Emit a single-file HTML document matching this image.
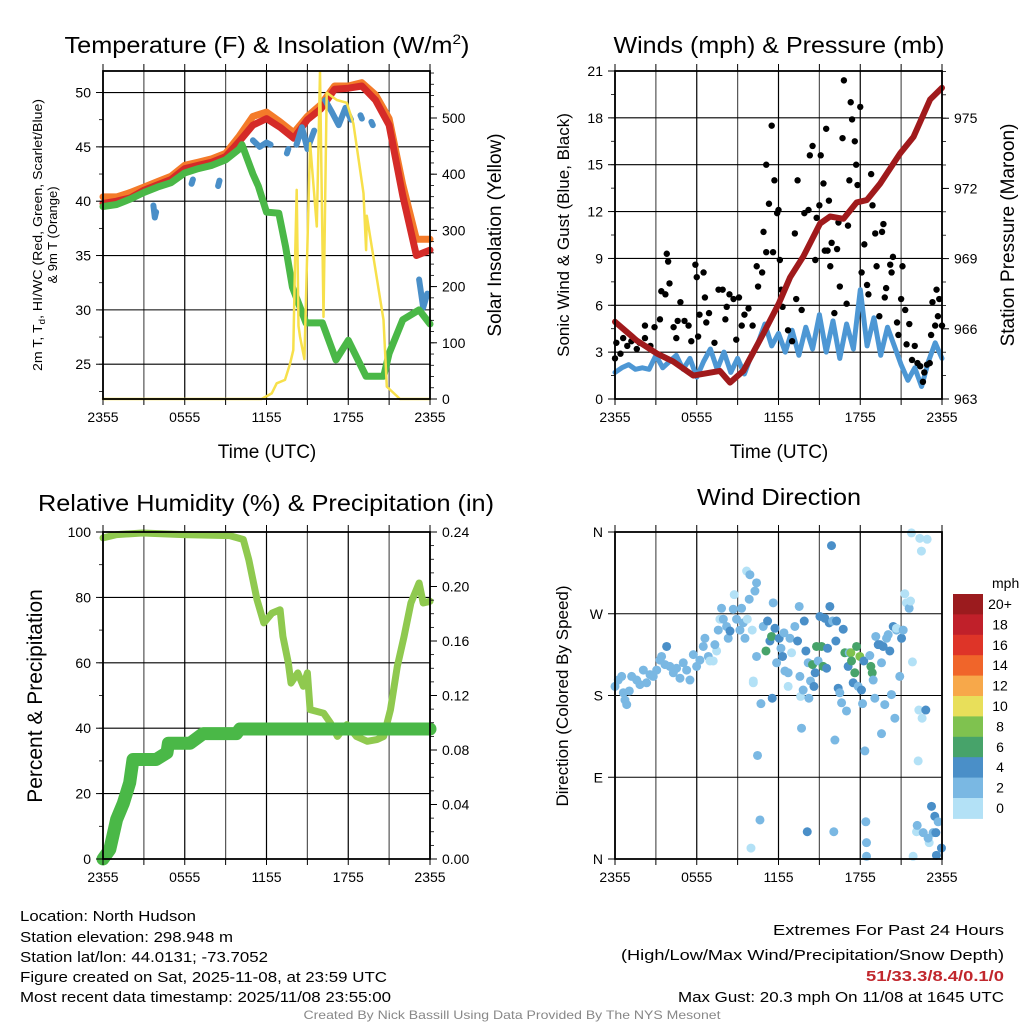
<!DOCTYPE html>
<html><head><meta charset="utf-8"><title>Station meteogram – North Hudson</title>
<style>html,body{margin:0;padding:0;background:#fff}svg{display:block;font-family:"Liberation Sans",sans-serif}</style>
</head><body>
<svg id="fig" width="1024" height="1024" viewBox="0 0 1024 1024" xmlns="http://www.w3.org/2000/svg">
<rect width="1024" height="1024" fill="#fff"/>
<g id="grid"></g>
<g id="marks"></g>
<g id="axes"></g>
<g id="labels">
<text x="267" y="53" font-size="23" text-anchor="middle" textLength="405" lengthAdjust="spacingAndGlyphs">Temperature (F) &amp; Insolation (W/m<tspan dy="-9" font-size="14">2</tspan><tspan dy="9">)</tspan></text>
<text x="779" y="53" font-size="23" text-anchor="middle" textLength="331" lengthAdjust="spacingAndGlyphs">Winds (mph) &amp; Pressure (mb)</text>
<text x="266" y="511" font-size="23" text-anchor="middle" textLength="456" lengthAdjust="spacingAndGlyphs">Relative Humidity (%) &amp; Precipitation (in)</text>
<text x="779" y="505" font-size="23" text-anchor="middle" textLength="164" lengthAdjust="spacingAndGlyphs">Wind Direction</text>
<text x="267" y="458" font-size="19" text-anchor="middle">Time (UTC)</text>
<text x="779" y="458" font-size="19" text-anchor="middle">Time (UTC)</text>
<text transform="translate(42,235) rotate(-90)" font-size="13" text-anchor="middle" textLength="272" lengthAdjust="spacingAndGlyphs">2m T, T<tspan dy="3" font-size="9">d</tspan><tspan dy="-3">, HI/WC (Red, Green, Scarlet/Blue)</tspan></text>
<text transform="translate(57,235) rotate(-90)" font-size="13" text-anchor="middle">&amp; 9m T (Orange)</text>
<text transform="translate(501,235) rotate(-90)" font-size="19" text-anchor="middle">Solar Insolation (Yellow)</text>
<text transform="translate(569,235) rotate(-90)" font-size="17" text-anchor="middle">Sonic Wind &amp; Gust (Blue, Black)</text>
<text transform="translate(1014,235) rotate(-90)" font-size="19" text-anchor="middle">Station Pressure (Maroon)</text>
<text transform="translate(42,696) rotate(-90)" font-size="21" text-anchor="middle">Percent &amp; Precipitation</text>
<text transform="translate(568,696) rotate(-90)" font-size="17" text-anchor="middle">Direction (Colored By Speed)</text>
<text x="992" y="588" font-size="14">mph</text>
<text x="20" y="921" font-size="15" textLength="176" lengthAdjust="spacingAndGlyphs">Location: North Hudson</text>
<text x="20" y="942" font-size="15" textLength="213" lengthAdjust="spacingAndGlyphs">Station elevation: 298.948 m</text>
<text x="20" y="962" font-size="15" textLength="248" lengthAdjust="spacingAndGlyphs">Station lat/lon: 44.0131; -73.7052</text>
<text x="20" y="982" font-size="15" textLength="367" lengthAdjust="spacingAndGlyphs">Figure created on Sat, 2025-11-08, at 23:59 UTC</text>
<text x="20" y="1002" font-size="15" textLength="371" lengthAdjust="spacingAndGlyphs">Most recent data timestamp: 2025/11/08 23:55:00</text>
<text x="1004" y="935" font-size="15" text-anchor="end" textLength="231" lengthAdjust="spacingAndGlyphs">Extremes For Past 24 Hours</text>
<text x="1004" y="960" font-size="15" text-anchor="end" textLength="383" lengthAdjust="spacingAndGlyphs">(High/Low/Max Wind/Precipitation/Snow Depth)</text>
<text x="1004" y="981" font-size="15" font-weight="bold" fill="#c1272d" text-anchor="end" textLength="138" lengthAdjust="spacingAndGlyphs">51/33.3/8.4/0.1/0</text>
<text x="1004" y="1002" font-size="15" text-anchor="end" textLength="326" lengthAdjust="spacingAndGlyphs">Max Gust: 20.3 mph On 11/08 at 1645 UTC</text>
<text x="512" y="1019" font-size="12" fill="#888" text-anchor="middle" textLength="417" lengthAdjust="spacingAndGlyphs">Created By Nick Bassill Using Data Provided By The NYS Mesonet</text>
</g>
</svg>
<script>
// ---------- data ----------
const hourTicks = ["2355","0555","1155","1755","2355"];
const hourly = [0,1,2,3,4,5,6,7,8,9,10,11,12,13,14,15,16,17,18,19,20,21,22,23,24];
const tempRed = [39.8,40.0,40.3,41.0,41.5,42.0,43.0,43.3,43.6,44.1,45.5,47.0,47.6,46.8,45.8,47.5,48.5,50.3,50.4,50.6,49.3,47.0,40.5,35.0,35.5];
const tempOrange = [40.4,40.4,40.8,41.3,41.8,42.3,43.3,43.6,43.9,44.4,46.0,47.8,48.2,47.3,46.3,47.8,48.9,50.6,50.6,50.9,49.8,47.6,41.5,36.5,36.5];
const greenHours = [0,1,2,3,4,5,6,7,8,9,10,10.2,11,11.4,12,12.9,13.4,13.9,14.9,16.1,17.1,18,19.3,20.6,21,22,23.2,24];
const tempGreen = [39.5,39.7,40.2,40.8,41.3,41.7,42.6,43.0,43.3,43.8,44.8,45.2,42.5,41.4,39.0,38.9,35.8,32.1,28.8,28.8,25.4,27.2,23.9,23.9,26.0,29.1,30.0,28.7];
const blueHours = [3.7,3.8,3.9,null,6.5,6.6,null,8.45,8.55,null,11.0,11.5,12.0,12.3,null,13.5,13.6,null,14.2,14.6,15.0,15.5,null,16.3,16.8,17.3,17.8,18.2,null,18.9,19.0,null,19.7,19.8,null,23.2,23.5,23.8];
const blueTemps = [39.6,38.5,39.0,null,41.6,42.0,null,41.4,41.9,null,45.6,45.0,45.4,45.2,null,44.4,44.8,null,45.2,46.8,44.8,46.5,null,49.3,48.2,47.0,48.6,47.5,null,47.9,47.6,null,47.3,47.0,null,32.8,30.2,31.5];
const solarHours = [0,11.64,12.38,12.75,13.36,13.73,13.97,14.1,14.22,14.35,14.46,14.78,15.2,15.69,15.93,16.18,16.42,17.16,17.89,18.38,19.12,19.31,19.36,20.59,20.83,21.8,24];
const solarVals = [0,0,10,28,34,63,87,250,372,130,111,71,455,307,582,146,545,532,527,490,366,265,326,141,22,0,0];
const pressHours = [0,1.59,3.06,4.28,5.75,7.7,8.44,9.42,10.89,12.04,12.85,13.83,15.05,15.79,16.77,17.74,18.48,19.46,20.93,21.91,23.13,24];
const pressVals = [966.3,965.5,964.95,964.6,964.0,964.2,963.7,964.2,965.8,967.1,968.2,969.1,970.5,970.8,970.7,971.4,971.5,972.2,973.5,974.2,975.8,976.3];
const windVals = [1.7,2.0,2.2,1.9,2.0,1.9,2.8,2.0,2.4,2.8,1.9,2.6,1.4,2.4,3.2,1.9,3.0,1.7,2.6,1.6,2.8,3.6,4.8,3.4,4.2,3.0,4.4,2.8,4.6,3.2,5.4,3.0,5.0,2.6,4.8,3.2,7.0,3.4,5.2,2.8,4.6,3.4,2.2,1.2,2.0,0.8,2.4,3.6,2.6];
const gustHours = [0,0.1,0.4,0.6,0.9,1.2,1.6,1.8,2.2,2.2,2.6,2.9,3.3,3.4,3.7,3.8,3.9,4.0,4.3,4.5,4.6,4.8,5.1,5.4,5.6,5.9,6.0,6.1,6.2,6.5,6.6,6.7,6.9,7.3,7.6,7.9,8.1,8.2,8.4,8.7,8.9,9.1,9.3,9.5,9.8,10.1,10.4,10.5,10.8,10.9,11.1,11.1,11.3,11.5,11.6,11.7,11.9,12.0,12.1,12.2,12.3,12.7,13.0,13.2,13.3,13.4,13.7,13.9,14.2,14.3,14.5,14.7,14.8,15.0,15.1,15.3,15.4,15.5,15.6,15.7,15.8,15.9,16.1,16.3,16.4,16.5,16.7,16.8,17.0,17.1,17.2,17.3,17.4,17.6,17.7,17.8,18.0,18.1,18.3,18.5,18.6,18.8,18.9,19.1,19.2,19.4,19.6,19.7,19.8,19.9,20.2,20.3,20.4,20.7,20.8,21.0,21.1,21.3,21.4,21.6,21.8,22.0,22.2,22.4,22.6,22.7,22.9,23.1,23.2,23.3,23.5,23.6,23.7,23.8,24.0];
const gustVals = [2.6,3.6,2.9,3.9,3.4,3.7,3.2,3.6,3.9,4.7,3.4,4.6,5.1,6.9,6.7,9.3,8.8,7.4,4.6,3.9,5.0,6.2,5.0,4.7,3.7,8.6,7.8,4.0,5.4,8.1,6.5,4.9,5.5,3.6,7.0,7.0,5.1,5.9,6.7,6.4,3.8,6.5,4.7,5.4,5.8,4.7,8.5,7.2,8.1,10.7,15.0,9.4,12.5,17.5,9.4,14.0,11.9,12.1,8.9,7.0,5.9,4.4,3.7,10.6,6.4,14.0,5.7,11.9,12.1,15.6,16.2,8.9,11.6,12.4,15.6,13.8,9.5,17.3,9.5,12.7,8.5,10.0,5.5,9.6,11.3,7.2,16.7,20.4,6.1,11.1,14.0,19.0,17.9,16.5,15.0,13.7,18.7,8.1,9.9,7.3,6.7,14.4,12.4,10.6,8.5,5.3,10.7,11.2,6.5,7.1,8.6,8.1,9.1,4.9,4.1,6.4,8.5,5.7,3.5,4.8,2.5,3.4,2.3,2.1,1.1,1.7,2.2,2.3,4.1,6.2,4.7,7.0,5.3,6.4,4.7];
const rhHours = [0,1,2.9,5.9,9.3,10.3,10.7,11.0,11.3,11.8,12.4,13.0,13.2,13.6,13.8,14.3,14.7,15.0,15.2,16.2,16.7,17.2,17.9,18.6,19.4,20.1,20.6,21.1,21.6,22.1,22.6,23.2,23.5,24];
const rhVals = [98.2,99.2,99.7,99.2,98.9,97.7,91.5,85.4,79.3,72.2,75.2,76.2,68.1,60.0,53.8,56.9,52.8,56.9,45.7,44.6,41.6,37.5,41.1,37.5,36.0,36.5,37.5,45.7,58.9,68.1,78.3,84.4,78.3,78.8];
const precipHours = [0,0.5,1,1.5,1.96,2.2,2.45,3.9,4.7,4.8,6.4,7.35,9.8,10.05,24];
const precipVals = [0,0.007,0.029,0.041,0.056,0.073,0.073,0.073,0.078,0.085,0.085,0.092,0.092,0.0954,0.0954];
const dirHours = [0,0.24,0.49,0.61,0.73,0.86,1.05,1.22,1.59,1.83,2.08,2.32,2.57,2.81,3.06,3.3,3.42,3.67,3.79,4.03,4.28,4.52,4.77,5.01,5.26,5.5,5.75,5.99,6.23,6.48,6.6,6.85,6.97,7.21,7.46,7.33,7.58,7.7,7.82,7.95,8.19,8.31,8.44,8.68,8.75,8.92,9.17,9.29,9.41,9.54,9.71,9.66,9.9,10.07,10.15,10.27,10.39,9.85,10.15,10.39,10.46,10.64,10.71,9.98,10.88,11.08,11.2,11.37,11.49,11.54,11.61,11.74,11.86,12.05,12.18,12.3,12.4,12.47,12.71,12.71,12.84,12.96,13.2,13.4,13.52,13.57,13.62,13.69,13.81,13.89,14.01,14.11,14.18,14.23,14.35,14.5,14.6,14.69,14.79,14.91,15.04,15.16,15.28,15.4,15.53,15.6,15.72,15.77,15.89,15.97,16.06,16.14,16.26,16.21,16.38,16.5,16.63,16.75,16.87,16.99,17.11,17.19,17.31,17.36,17.48,17.6,17.73,17.85,17.97,18.09,18.17,18.26,18.34,18.41,18.46,18.46,18.7,18.78,18.88,18.95,19.07,19.14,19.32,19.44,19.56,19.56,19.68,19.8,19.93,20.05,20.17,20.29,20.42,20.54,20.66,20.66,20.9,21.03,21.15,21.27,21.39,21.59,21.69,21.76,21.83,22.25,22.54,22.3,22.37,22.49,22.81,22.91,23.06,23.96,21.88,22.13,22.18,22.62,22.98,23.23,23.35,23.47,23.55,23.59,23.72,23.79,23.89,23.35];
const dirDegrees = [190,197,201,183,175,170,185,201,197,192,208,194,203,201,208,219,223,214,234,212,205,210,199,216,208,197,225,212,219,234,243,223,218,218,229,236,252,264,276,264,256,243,251,275,291,264,252,276,260,243,264,317,313,252,194,295,304,286,196,223,114,43,171,12,256,229,262,240,245,177,282,254,216,243,232,223,249,207,205,190,243,227,256,240,278,201,179,144,186,262,229,30,216,177,196,214,190,205,234,218,267,234,212,265,210,232,260,278,345,262,30,131,262,240,188,183,172,253,227,163,212,227,227,218,194,205,234,190,223,186,171,218,119,41,18,3,224,212,205,197,177,245,236,236,216,138,234,170,243,247,229,181,256,155,252,254,201,243,252,292,282,276,284,359,217,108,155,164,353,339,164,352,18,12,3,30,37,29,23,58,29,47,29,4,41];
const dirSpeeds = [3,3,3,3,3,3,3,3,3,3,3,3,3,3,3,3,3,3,5,3,3,3,3,3,3,3,3,3,3,3,3,3,1,1,1,3,3,1,3,3,3,3,5,3,1,3,3,3,3,3,1,1,3,1,1,3,3,3,1,3,3,3,3,1,3,7,5,5,7,5,3,5,3,5,3,5,3,3,3,1,3,1,3,5,3,3,1,3,3,5,5,5,3,3,3,7,5,5,7,3,5,7,7,5,5,5,5,5,5,3,3,3,5,5,5,3,3,5,7,3,5,3,8.5,7,5,7,7,3,8.5,5,3,5,3,3,3,3,3,7,7,3,3,3,5,5,3,3,5,3,3,3,5,3,5,3,3,1,3,5,3,1,1,3,1,1,1,1,1,1,1,1,5,1,1,5,1,1,3,3,3,5,3,5,5,5,3];
const cbLabels = ["20+","18","16","14","12","10","8","6","4","2","0"];
const cbColors = ["#9b1b1e","#c0202a","#de3428","#f0652a","#f7a84a","#e8df5a","#7fc24f","#47a36a","#4a8fc8","#7ab8e3","#b3e1f6"];
const tempTicks = [25,30,35,40,45,50];
const solarTicks = [0,100,200,300,400,500];
const windTicks = [0,3,6,9,12,15,18,21];
const pressTicks = [963,966,969,972,975];
const rhTicks = [0,20,40,60,80,100];
const precipTicks = ["0.00","0.04","0.08","0.12","0.16","0.20","0.24"];
const dirTicks = ["N","E","S","W","N"];

// ---------- scales ----------
const NS="http://www.w3.org/2000/svg";
const L1=103,R1=430,L2=615,R2=942,T1=71,B1=399,T2=532,B2=859;
const xA=h=>L1+h*(R1-L1)/24, xB=h=>L2+h*(R2-L2)/24;
const yTemp=t=>B1-(t-21.8)*(B1-T1)/(51.98-21.8);
const ySolar=s=>B1-s*(B1-T1)/583.6;
const yWind=m=>B1-m*(B1-T1)/21;
const yPress=p=>B1-(p-963)*23.4;
const yRH=r=>B2-r*(B2-T2)/100;
const yPrecip=v=>B2-v*(B2-T2)/0.24;
const yDir=d=>B2-d*(B2-T2)/360;
const grid=document.getElementById('grid'),marks=document.getElementById('marks'),axes=document.getElementById('axes');
function mk(tag,at,parent){const e=document.createElementNS(NS,tag);for(const k in at)e.setAttribute(k,at[k]);parent.appendChild(e);return e;}
function txt(s,at,parent){const e=mk('text',at,parent);e.textContent=s;return e;}
function pathFrom(xs,ys,fx,fy){let d='',pen=false;const n=Math.min(xs.length,ys.length);for(let i=0;i<n;i++){if(xs[i]===null||ys[i]===null){pen=false;continue;}d+=(pen?'L':'M')+fx(xs[i]).toFixed(1)+','+fy(ys[i]).toFixed(1);pen=true;}return d;}

// ---------- frames & grids ----------
function frame(L,R,T,B,name){
  for(let i=0;i<=8;i++){const x=L+i*(R-L)/8;
    const g=mk('line',{x1:x,y1:T,x2:x,y2:B,stroke:i%2?'#555':'#000','stroke-width':1.2},grid);
    
    
    const t1=mk('line',{x1:x,y1:B,x2:x,y2:B+6,stroke:'#000','stroke-width':1},axes);
    
    
    const t2=mk('line',{x1:x,y1:T-7,x2:x,y2:T,stroke:'#000','stroke-width':1},axes);
    
    
  }
  for(let i=0;i<hourTicks.length;i++){const x=L+i*(R-L)/4;
    const t=txt(hourTicks[i],{x:x,y:B+23,'font-size':14,'text-anchor':'middle'},axes);
    
    }
  const f=mk('rect',{x:L,y:T,width:R-L,height:B-T,fill:'none',stroke:'#000','stroke-width':1.8},axes);
  
  
}
function hgrid(vals,fy,L,R,name){vals.forEach(v=>{const y=fy(v);
  const g=mk('line',{x1:L,y1:y,x2:R,y2:y,stroke:'#000','stroke-width':1.1},grid);
  
  });}
function yAxis(vals,labels,fy,x,side,minorStep,lo,hi,name){
  const dir=side==='left'?-1:1;
  vals.forEach((v,i)=>{const y=fy(v);
    const t=mk('line',{x1:x,y1:y,x2:x+dir*7,y2:y,stroke:'#000','stroke-width':1},axes);
    
    
    const l=txt(labels[i],{x:x+dir*12,y:y+5,'font-size':14,'text-anchor':side==='left'?'end':'start'},axes);
    
    });
  if(minorStep){for(let v=lo;v<=hi+1e-9;v+=minorStep){const y=fy(v);
    const t=mk('line',{x1:x,y1:y,x2:x+dir*4,y2:y,stroke:'#000','stroke-width':0.8},axes);
    
    }}
}
frame(L1,R1,T1,B1,'temperature');frame(L2,R2,T1,B1,'winds');frame(L1,R1,T2,B2,'humidity');frame(L2,R2,T2,B2,'direction');
hgrid(tempTicks,yTemp,L1,R1,'temperature');
hgrid(windTicks,yWind,L2,R2,'winds');
hgrid(rhTicks,yRH,L1,R1,'rh');
hgrid([0,90,180,270,360],yDir,L2,R2,'direction');
yAxis(tempTicks,tempTicks.map(String),yTemp,L1,'left',2.5,22.5,50,'temperature-y');
yAxis(solarTicks,solarTicks.map(String),ySolar,R1,'right',20,0,580,'solar-y');
yAxis(windTicks,windTicks.map(String),yWind,L2,'left',1.5,0,21,'wind-y');
yAxis(pressTicks,pressTicks.map(String),yPress,R2,'right',1,963,977,'pressure-y');
yAxis(rhTicks,rhTicks.map(String),yRH,L1,'left',10,0,100,'rh-y');
yAxis(precipTicks.map(Number),precipTicks,yPrecip,R1,'right',0.01,0,0.24,'precip-y');
yAxis([0,90,180,270,360],dirTicks,yDir,L2,'left',0,0,0,'direction-y');

// ---------- panel 1 ----------
function line(xs,ys,fx,fy,color,w,name){const p=mk('path',{d:pathFrom(xs,ys,fx,fy),fill:'none',stroke:color,'stroke-width':w,'stroke-linejoin':'round','stroke-linecap':'round'},marks);
  
  return p;}
line(hourly,tempOrange,xA,yTemp,'#f47b2a',7,'temp-9m-orange-line');
line(hourly,tempRed,xA,yTemp,'#d52b28',7,'temp-2m-red-line');
line(blueHours,blueTemps,xA,yTemp,'#4a8fc8',6,'windchill-blue-line');
line(greenHours,tempGreen,xA,yTemp,'#4ab847',7,'dewpoint-green-line');
line(solarHours,solarVals,xA,ySolar,'#f7e04b',2.5,'solar-insolation-line');

// ---------- panel 2 ----------
const windHours=windVals.map((v,i)=>i*0.5);
line(windHours,windVals,xB,yWind,'#4d97d4',5,'sonic-wind-line');
const nG=Math.min(gustHours.length,gustVals.length);
for(let i=0;i<nG;i++){if(typeof gustVals[i]!=='number')continue;
  const c=mk('circle',{cx:xB(gustHours[i]),cy:yWind(gustVals[i]),r:3.2,fill:'#000'},marks);
  
  }
line(pressHours,pressVals,xB,yPress,'#a01a1c',6,'station-pressure-line');

// ---------- panel 3 ----------
line(rhHours,rhVals,xA,yRH,'#8fc94f',7,'relative-humidity-line');
line(precipHours,precipVals,xA,yPrecip,'#4ab847',13,'precipitation-line');

// ---------- panel 4 ----------
function speedColor(s){const bin=Math.min(10,Math.floor(s/2));return cbColors[10-bin];}
const nD=Math.min(dirHours.length,dirDegrees.length,dirSpeeds.length);
for(let i=0;i<nD;i++){
  const c=mk('circle',{cx:xB(dirHours[i]),cy:yDir(dirDegrees[i]),r:4.5,fill:speedColor(dirSpeeds[i])},marks);
  
  }
const cbTop=594,cbH=20.4;
cbLabels.forEach((lab,i)=>{const r=mk('rect',{x:953,y:cbTop+i*cbH,width:30,height:cbH+0.5,fill:cbColors[i]},axes);
  
  
  const t=txt(lab,{x:1000,y:cbTop+i*cbH+15,'font-size':14,'text-anchor':'middle'},axes);
  
  });
</script>
</body></html>
